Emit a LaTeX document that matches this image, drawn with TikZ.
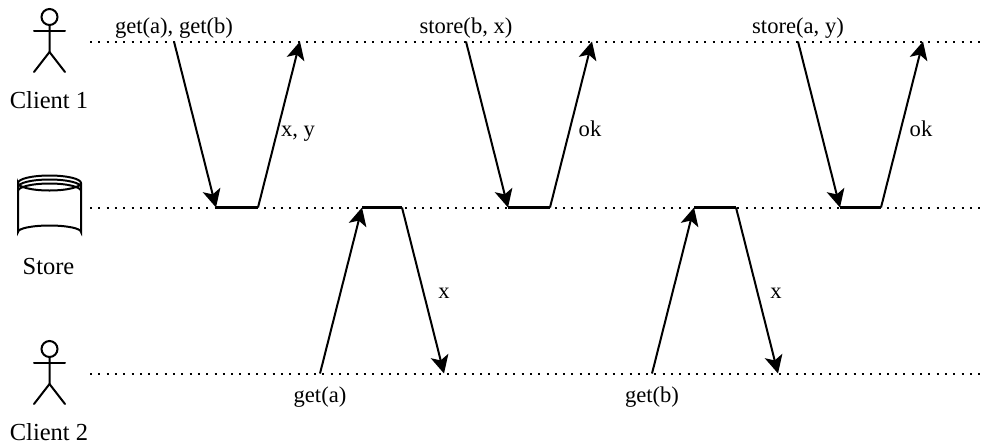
\documentclass[tikz,border=0pt]{standalone}
\usepackage{fontspec}
\setmainfont{Liberation Serif}
\usetikzlibrary{arrows.meta, positioning}

\begin{document}
\begin{tikzpicture}[
  x=1pt, y=-1pt,
  font=\fontsize{22.6}{26}\selectfont,
  msg/.style={inner sep=0pt, anchor=base},
  who/.style={msg, font=\fontsize{24.5}{28}\selectfont},
  timeline/.style={line width=2pt, dash pattern=on 2pt off 6.3pt},
  busy/.style={line width=2.2pt},
  arrow/.style={-{Stealth[length=18pt, width=18pt, inset=4.5pt]}, line width=2pt},
  figure/.style={line width=2pt, line cap=round},
  actor/.pic={
    \draw[figure] (0,-14) circle (8);
    \draw[figure] (-15.5,0) -- (15.5,0);
    \draw[figure] (0,-6) -- (0,21) -- (-15.5,41);
    \draw[figure] (0,21) -- (15.5,41);
  }
]
\useasboundingbox (0,0) rectangle (987,445);

% Actors
\pic at (49.5,31) {actor};
\pic at (49.5,363) {actor};
\node[who] (client1) at (49,108) {Client 1};
\node[who] (client2) at (49,440) {Client 2};

% Store
\draw[figure] (18,183) arc[start angle=180, end angle=360, x radius=31.5, y radius=7.5]
  arc[start angle=0, end angle=180, x radius=31.5, y radius=7.5] -- (18,232)
  arc[start angle=180, end angle=360, x radius=31.5, y radius=6.5] -- (81,183);
\draw[figure] (18,187) arc[start angle=180, end angle=360, x radius=31.5, y radius=7.5];
\draw[figure] (18,191) arc[start angle=180, end angle=360, x radius=31.5, y radius=7.5];
\node[who] (store) at (48.5,274) {Store};

% Timelines
\coordinate (l1a) at (90,41.5);  \coordinate (l1b) at (983,41.5);
\coordinate (l2a) at (90,207.5); \coordinate (l2b) at (983,207.5);
\coordinate (l3a) at (90,373.5); \coordinate (l3b) at (983,373.5);
\draw[timeline] (l1a) -- (l1b);
\draw[timeline] (l2a) -- (l2b);
\draw[timeline] (l3a) -- (l3b);

% Client 1 requests
\foreach \name/\xa/\xb/\xc/\xd in {p/174/216/258/300, q/466/508/550/592, r/798/840/881/923}{
  \coordinate (\name1) at (\xa,41.5);
  \coordinate (\name2) at (\xb,207.5);
  \coordinate (\name3) at (\xc,207.5);
  \coordinate (\name4) at (\xd,41.5);
  \draw[arrow] (\name1) -- (\name2);
  \draw[busy] (\name2) -- (\name3);
  \draw[arrow] (\name3) -- (\name4);
}

% Client 2 requests
\foreach \name/\xa/\xb/\xc/\xd in {s/320/362/402/444, t/652/694/736/778}{
  \coordinate (\name1) at (\xa,373.5);
  \coordinate (\name2) at (\xb,207.5);
  \coordinate (\name3) at (\xc,207.5);
  \coordinate (\name4) at (\xd,373.5);
  \draw[arrow] (\name1) -- (\name2);
  \draw[busy] (\name2) -- (\name3);
  \draw[arrow] (\name3) -- (\name4);
}

% Labels
\node[msg] (lp) at (174,33) {get(a), get(b)};
\node[msg] (lq) at (466,33) {store(b, x)};
\node[msg] (lr) at (798,33) {store(a, y)};
\node[msg] (ls) at (320,402) {get(a)};
\node[msg] (lt) at (652,402) {get(b)};
\node[msg] (la) at (298,136) {x, y};
\node[msg] (lb) at (590,136) {ok};
\node[msg] (lc) at (921,136) {ok};
\node[msg] (ld) at (444,298) {x};
\node[msg] (le) at (776,298) {x};
\end{tikzpicture}
\end{document}
